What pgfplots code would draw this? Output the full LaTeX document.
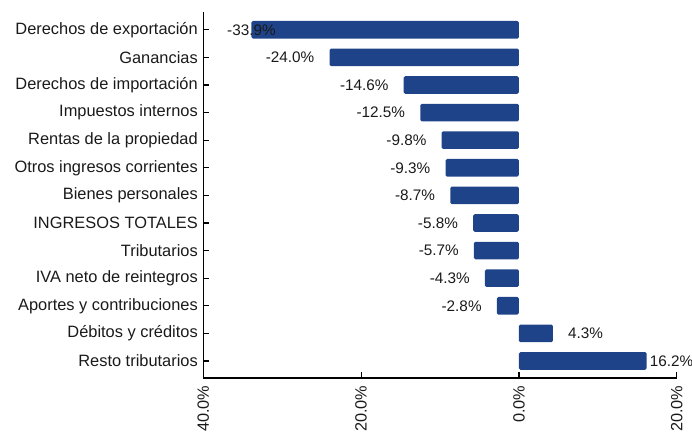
\documentclass[border=0pt]{standalone}
\usepackage{pgfplots}
\pgfplotsset{compat=1.18}
\usepackage{fontspec}
\setmainfont{Liberation Sans}
\definecolor{barblue}{HTML}{1E4388}
\definecolor{txt}{HTML}{1A1A1A}

\begin{document}
\begin{tikzpicture}[x=1pt,y=1pt]
\begin{axis}[
    at={(203.3pt,56pt)}, anchor=south west,
    scale only axis, width=473.4pt, height=366pt,
    xbar, bar width=17.6pt,
    xmin=-40, xmax=20, ymin=0.383, ymax=13.645,
    axis x line*=bottom, axis y line*=left,
    axis line style={-, line width=1.2pt, black},
    tick align=inside, major tick length=6pt,
    tick style={line width=1.2pt, black},
    xtick={-40,-20,0,20},
    xticklabels={40.0\%,20.0\%,0.0\%,20.0\%},
    xticklabel shift=4pt,
    xticklabel style={rotate=90, anchor=east, font=\fontsize{16.3}{19}\selectfont, text=txt},
    ytick={1,...,13},
    yticklabels={Resto tributarios, Débitos y créditos, Aportes y contribuciones,
      IVA neto de reintegros, Tributarios, INGRESOS TOTALES, Bienes personales,
      Otros ingresos corrientes, Rentas de la propiedad, Impuestos internos,
      Derechos de importación, Ganancias, Derechos de exportación},
    yticklabel style={font=\fontsize{16.4}{19}\selectfont, text=txt, xshift=-2pt},
    clip=false,
    /pgf/number format/assume math mode=true,
]
% main bars, labels outside the bar end
\addplot[fill=barblue, draw=none, bar shift=0pt, rounded corners=1.5pt,
    point meta=x, nodes near coords align={horizontal},
    nodes near coords={\pgfmathprintnumber[fixed,fixed zerofill,precision=1]{\pgfplotspointmeta}\%},
    every node near coord/.append style={font=\fontsize{15.3}{18}\selectfont, text=txt, inner xsep=15pt}]
  coordinates {
    (-24.0,12) (-14.6,11) (-12.5,10) (-9.8,9) (-9.3,8) (-8.7,7)
    (-5.8,6) (-5.7,5) (-4.3,4) (-2.8,3) (4.3,2)
  };
% longest bar, label sits on the bar end
\addplot[fill=barblue, draw=none, bar shift=0pt, rounded corners=1.5pt,
    nodes near coords={-33.9\%},
    every node near coord/.append style={font=\fontsize{15.3}{18}\selectfont, text=txt, anchor=center}]
  coordinates {(-33.9,13)};
% last bar, label close to the end
\addplot[fill=barblue, draw=none, bar shift=0pt, rounded corners=1.5pt,
    nodes near coords={16.2\%},
    every node near coord/.append style={font=\fontsize{15.3}{18}\selectfont, text=txt, anchor=west, inner xsep=3pt}]
  coordinates {(16.2,1)};
\end{axis}
\pgfresetboundingbox
\path[use as bounding box] (0,0) rectangle (692,434);
\end{tikzpicture}
\end{document}
